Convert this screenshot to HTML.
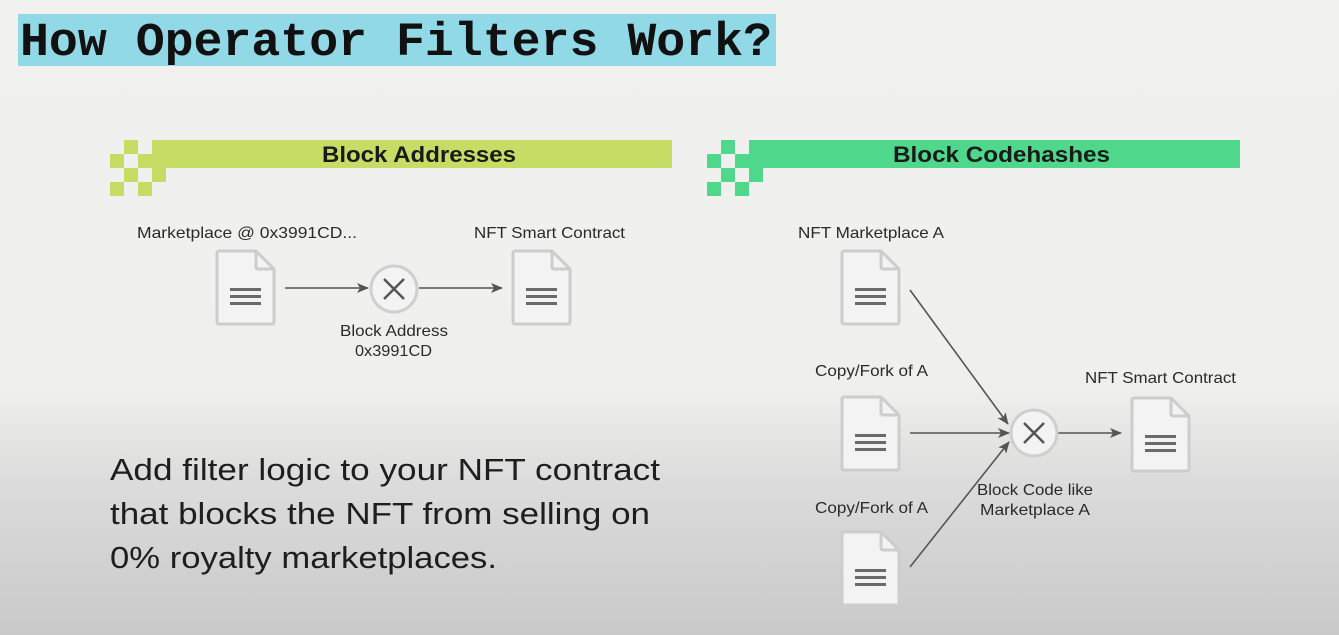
<!DOCTYPE html>
<html><head><style>
body{margin:0;width:1339px;height:635px;overflow:hidden;background:linear-gradient(#f1f1ef 0px,#efefed 390px,#dcdcdc 480px,#c9c9c9 635px);font-family:"Liberation Sans",sans-serif;}
</style></head><body>
<svg width="1339" height="635" xmlns="http://www.w3.org/2000/svg" style="position:absolute;left:0;top:0">
<defs>
<g id="doc">
<path d="M3 1 H40 L58 19 V72 a2 2 0 0 1 -2 2 H3 a2 2 0 0 1 -2 -2 V3 a2 2 0 0 1 2 -2 Z" fill="#f3f3f3" stroke="#cdcdcd" stroke-width="3"/>
<path d="M40 1 V17 a2 2 0 0 0 2 2 H58" fill="none" stroke="#cdcdcd" stroke-width="3"/>
<rect x="14" y="38" width="31" height="3" fill="#6a6a6a"/>
<rect x="14" y="45" width="31" height="3" fill="#6a6a6a"/>
<rect x="14" y="52" width="31" height="3" fill="#6a6a6a"/>
</g>
<g id="xc">
<circle r="23" fill="#f3f3f3" stroke="#cfcfcf" stroke-width="3"/>
<path d="M-10 -10 L10 10 M10 -10 L-10 10" stroke="#555" stroke-width="2.5"/>
</g>
<marker id="ar" markerWidth="12" markerHeight="10" refX="11" refY="5" orient="auto" markerUnits="userSpaceOnUse">
<path d="M0 0 L12 5 L0 10 L3 5 Z" fill="#555"/>
</marker>
<g id="chk">
<rect x="14" y="0" width="14" height="14"/><rect x="42" y="0" width="14" height="14"/>
<rect x="0" y="14" width="14" height="14"/><rect x="28" y="14" width="14" height="14"/>
<rect x="14" y="28" width="14" height="14"/><rect x="42" y="28" width="14" height="14"/>
<rect x="0" y="42" width="14" height="14"/><rect x="28" y="42" width="14" height="14"/>
</g>
</defs>
<rect x="18" y="14" width="758" height="52" fill="#91d9e6"/>
<text x="20" y="55" font-family="Liberation Mono,monospace" font-weight="bold" font-size="47" fill="#111" textLength="752" lengthAdjust="spacingAndGlyphs">How Operator Filters Work?</text>

<g fill="#c5dd65"><use href="#chk" x="110" y="140"/><rect x="152" y="140" width="520" height="28"/></g>
<text x="322" y="162" font-weight="bold" font-size="22" fill="#1a1a1a" textLength="194" lengthAdjust="spacingAndGlyphs">Block Addresses</text>
<g fill="#4fd88b"><use href="#chk" x="707" y="140"/><rect x="749" y="140" width="491" height="28"/></g>
<text x="893" y="162" font-weight="bold" font-size="22" fill="#1a1a1a" textLength="217" lengthAdjust="spacingAndGlyphs">Block Codehashes</text>

<g font-size="16" fill="#2a2a2a">
<text x="137" y="238" textLength="220" lengthAdjust="spacingAndGlyphs">Marketplace @ 0x3991CD...</text>
<text x="474" y="238" textLength="151" lengthAdjust="spacingAndGlyphs">NFT Smart Contract</text>
<text x="340" y="336" textLength="108" lengthAdjust="spacingAndGlyphs">Block Address</text>
<text x="355" y="356" textLength="77" lengthAdjust="spacingAndGlyphs">0x3991CD</text>
<text x="798" y="238" textLength="146" lengthAdjust="spacingAndGlyphs">NFT Marketplace A</text>
<text x="815" y="376" textLength="113" lengthAdjust="spacingAndGlyphs">Copy/Fork of A</text>
<text x="815" y="513" textLength="113" lengthAdjust="spacingAndGlyphs">Copy/Fork of A</text>
<text x="1085" y="383" textLength="151" lengthAdjust="spacingAndGlyphs">NFT Smart Contract</text>
<text x="977" y="495" textLength="116" lengthAdjust="spacingAndGlyphs">Block Code like</text>
<text x="980" y="515" textLength="110" lengthAdjust="spacingAndGlyphs">Marketplace A</text>
</g>

<use href="#doc" x="216" y="250"/>
<use href="#doc" x="512" y="250"/>
<use href="#xc" x="394" y="289"/>
<g stroke="#555" stroke-width="1.6" marker-end="url(#ar)">
<line x1="285" y1="288" x2="368" y2="288"/>
<line x1="419" y1="288" x2="502" y2="288"/>
<line x1="910" y1="290" x2="1008" y2="424"/>
<line x1="910" y1="433" x2="1009" y2="433"/>
<line x1="910" y1="567" x2="1009" y2="442"/>
<line x1="1058" y1="433" x2="1121" y2="433"/>
</g>
<use href="#doc" x="841" y="250"/>
<use href="#doc" x="841" y="396"/>
<use href="#doc" x="841" y="531"/>
<use href="#doc" x="1131" y="397"/>
<use href="#xc" x="1034" y="433"/>

<g font-size="31" fill="#1e1e1e">
<text x="110" y="480" textLength="550" lengthAdjust="spacingAndGlyphs">Add filter logic to your NFT contract</text>
<text x="110" y="524" textLength="540" lengthAdjust="spacingAndGlyphs">that blocks the NFT from selling on</text>
<text x="110" y="568" textLength="387" lengthAdjust="spacingAndGlyphs">0% royalty marketplaces.</text>
</g>
</svg>
</body></html>
